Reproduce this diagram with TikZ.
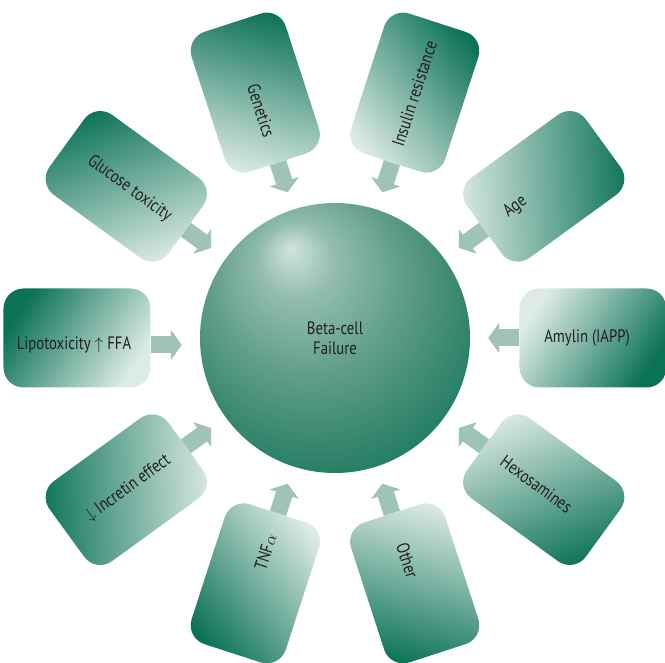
\documentclass[tikz,border=0pt]{standalone}
\usepackage{fontspec}
\setmainfont[FakeStretch=0.82]{PT Sans}
\usetikzlibrary{arrows.meta}

\definecolor{boxdark}{HTML}{0B7256}
\definecolor{boxlight}{HTML}{DDEBE6}
\definecolor{arrowfill}{HTML}{9FC4B6}
\definecolor{inktext}{HTML}{231F20}
\definecolor{ballA}{HTML}{D3E5DE}
\definecolor{ballB}{HTML}{C0D9CF}
\definecolor{ballC}{HTML}{93BDAE}
\definecolor{ballD}{HTML}{5F9D89}
\definecolor{ballE}{HTML}{3D8A72}
\definecolor{ballF}{HTML}{11765A}
\definecolor{ballG}{HTML}{0D7457}
\pgfdeclareradialshading{betaball}{\pgfpoint{-8.3bp}{16.7bp}}{%
  color(0bp)=(ballA); color(2bp)=(ballB); color(7bp)=(ballC);
  color(18bp)=(ballD); color(26bp)=(ballE); color(36bp)=(ballF);
  color(50bp)=(ballG)}

\begin{document}
\begin{tikzpicture}[x=1pt, y=1pt,
    factor/.style={rectangle, rounded corners=20pt, minimum width=147pt,
      minimum height=99pt, inner sep=0pt, top color=boxdark, bottom color=boxlight},
    factortext/.style={text=inktext, inner sep=0pt, font=\fontsize{18}{21}\selectfont},
    feed/.style={draw=arrowfill, line width=17pt, -{Triangle[width=30pt,length=11pt]},
      shorten >=18pt}]
    \useasboundingbox (-335,-325) rectangle (330,338);

    % the ten causes, every 36 degrees
    \node (genetics) at (108:258) [factor, rotate=-72, shading angle=-15] {};
    \node (insulin) at (72:258) [factor, rotate=72, shading angle=-51] {};
    \node (age) at (36:258) [factor, rotate=36, shading angle=-87] {};
    \node (amylin) at (0:258) [factor, rotate=0, shading angle=-123] {};
    \node (hexos) at (-36:258) [factor, rotate=-36, shading angle=-159] {};
    \node (other) at (-72:258) [factor, rotate=-72, shading angle=165] {};
    \node (tnf) at (-108:258) [factor, rotate=72, shading angle=129] {};
    \node (incretin) at (-144:258) [factor, rotate=36, shading angle=93] {};
    \node (lipo) at (180:258) [factor, rotate=0, shading angle=57] {};
    \node (glucose) at (144:258) [factor, rotate=-36, shading angle=21] {};

    \node (genetics-t) at (108:239) [factortext, rotate=-72] {Genetics};
    \node (insulin-t) at (72:257) [factortext, rotate=72] {Insulin resistance};
    \node (age-t) at (36:223) [factortext, rotate=36] {Age};
    \node (amylin-t) at (0:252) [factortext] {Amylin (IAPP)};
    \node (hexos-t) at (-36:249) [factortext, rotate=-36] {Hexosamines};
    \node (other-t) at (-72:234) [factortext, rotate=-72] {Other};
    \node (tnf-t) at (-108:225) [factortext, rotate=72] {TNF$\alpha$};
    \node (incretin-t) at (-144:256) [factortext, rotate=36] {$\downarrow$ Incretin effect};
    \node (lipo-t) at (-261,-7) [factortext] {Lipotoxicity $\uparrow$ FFA};
    \node (glucose-t) at (144:254) [factortext, rotate=-36] {Glucose toxicity};

    % the cell in the middle
    \node (beta) at (0,0) [circle, minimum size=270pt, inner sep=0pt, shade, shading=betaball,
      align=center, text=inktext, font=\fontsize{18}{20}\selectfont] {Beta-cell\\Failure};

    \draw[feed] (genetics) -- (beta);
    \draw[feed] (insulin) -- (beta);
    \draw[feed] (age) -- (beta);
    \draw[feed] (amylin) -- (beta);
    \draw[feed] (hexos) -- (beta);
    \draw[feed] (other) -- (beta);
    \draw[feed] (tnf) -- (beta);
    \draw[feed] (incretin) -- (beta);
    \draw[feed] ([yshift=-7pt]lipo.east) -- ([yshift=-7pt]beta.west);
    \draw[feed] (glucose) -- (beta);
\end{tikzpicture}
\end{document}
